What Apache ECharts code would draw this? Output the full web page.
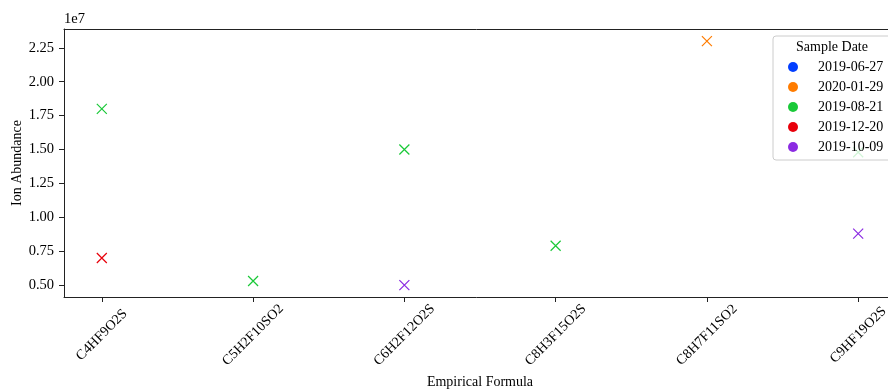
<!DOCTYPE html>
<html>
<head>
<meta charset="utf-8">
<script src="https://cdn.jsdelivr.net/npm/echarts@6/dist/echarts.min.js"></script>
<style>html,body{margin:0;padding:0;background:#fff}#c{width:888px;height:390px}</style>
</head>
<body>
<div id="c"></div>
<script>
const categories = ['C4HF9O2S','C5H2F10SO2','C6H2F12O2S','C8H3F15O2S','C8H7F11SO2','C9HF19O2S'];
const dates = ['2019-06-27','2020-01-29','2019-08-21','2019-12-20','2019-10-09'];
const colors = ['#023eff','#ff7c00','#1ac938','#e8000b','#8b2be2'];
// points per date: [formula, abundance]
const s_20190627 = [];
const s_20200129 = [['C8H7F11SO2', 23000000]];
const s_20190821 = [['C4HF9O2S', 18000000], ['C5H2F10SO2', 5300000], ['C6H2F12O2S', 15000000], ['C8H3F15O2S', 7900000], ['C9HF19O2S', 14800000]];
const s_20191220 = [['C4HF9O2S', 7000000]];
const s_20191009 = [['C6H2F12O2S', 5000000], ['C9HF19O2S', 8800000]];
const seriesData = [s_20190627, s_20200129, s_20190821, s_20191220, s_20191009];
const yTicks = [5000000, 7500000, 10000000, 12500000, 15000000, 17500000, 20000000, 22500000];

const font = 'Liberation Serif';
const chart = echarts.init(document.getElementById('c'));
const xIdx = categories.map((_, i) => i);
chart.setOption({
  animation: false,
  textStyle: {fontFamily: font},
  grid: {left: 64, top: 29, width: 832, height: 268, show: false, containLabel: false, outerBoundsMode: 'none'},
  xAxis: [{
    type: 'value', min: -0.25, max: 5.25,
    name: 'Empirical Formula', nameLocation: 'middle', nameGap: 78, nameMoveOverlap: false,
    nameTextStyle: {fontFamily: font, fontSize: 14, color: '#000'},
    axisLine: {show: true, onZero: false, lineStyle: {color: '#222', width: 1}},
    axisTick: {show: true, length: 5, customValues: xIdx, lineStyle: {color: '#222'}},
    axisLabel: {customValues: xIdx, rotate: 45, align: 'center', verticalAlign: 'middle', margin: 38,
      fontFamily: font, fontSize: 14, color: '#000',
      formatter: v => categories[Math.round(v)] || ''},
    splitLine: {show: false}
  }, {
    type: 'value', position: 'top', min: -0.25, max: 5.25,
    axisLine: {show: true, onZero: false, lineStyle: {color: '#222', width: 1}},
    axisTick: {show: false}, axisLabel: {show: false}, splitLine: {show: false}
  }],
  yAxis: {
    type: 'value', min: 4120000, max: 23890000,
    name: 'Ion Abundance', nameLocation: 'middle', nameGap: 40, nameMoveOverlap: false,
    nameTextStyle: {fontFamily: font, fontSize: 14, color: '#000'},
    axisLine: {show: true, onZero: false, lineStyle: {color: '#222', width: 1}},
    axisTick: {show: true, length: 5, customValues: yTicks, lineStyle: {color: '#222'}},
    axisLabel: {customValues: yTicks, margin: 10, fontFamily: font, fontSize: 14.5, color: '#000',
      formatter: v => (v / 1e7).toFixed(2)},
    splitLine: {show: false}
  },
  legend: {
    orient: 'vertical', left: 773, top: 36,
    padding: [23, 30, 5, 15],
    itemWidth: 40, itemHeight: 10, itemGap: 4,
    backgroundColor: 'rgba(255,255,255,0.8)', borderColor: '#cccccc', borderWidth: 1, borderRadius: 3,
    textStyle: {fontFamily: font, fontSize: 14, color: '#000', lineHeight: 16},
    data: dates.map((d, i) => ({name: d, icon: 'circle', itemStyle: {color: colors[i], borderWidth: 0, opacity: 1}}))
  },
  graphic: [
    {type: 'text', left: 64, top: 12, style: {text: '1e7', font: '14.5px "Liberation Serif"', fill: '#000'}},
    {type: 'text', z: 100, x: 832, y: 47, style: {text: 'Sample Date', font: '14px "Liberation Serif"', fill: '#000', align: 'center', verticalAlign: 'middle'}}
  ],
  series: dates.map((d, i) => ({
    name: d, type: 'scatter',
    symbol: 'path://M0,0L10,10M10,0L0,10', symbolSize: 10,
    itemStyle: {color: 'rgba(0,0,0,0)', borderColor: colors[i], borderWidth: 1.2, opacity: 1},
    data: seriesData[i].map(p => [categories.indexOf(p[0]), p[1]])
  }))
});
</script>
</body>
</html>
